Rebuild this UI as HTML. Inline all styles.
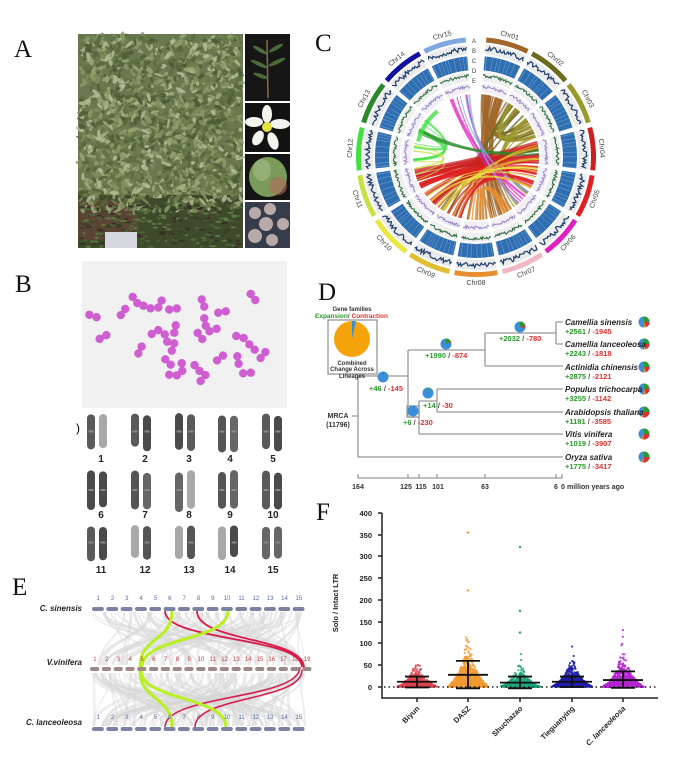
<!DOCTYPE html>
<html><head><meta charset="utf-8"><style>
html,body{margin:0;padding:0;background:#fff;}
svg{display:block;font-family:"Liberation Sans",sans-serif;}
.pl{font-family:"Liberation Serif",serif;font-size:25px;fill:#111;}
.tx{font-size:8px;font-weight:bold;font-style:italic;fill:#222;}
.num{font-size:7.5px;font-weight:bold;}
.g{fill:#2a9a2a}.r{fill:#e03030}
</style></head><body>
<svg id="s" width="688" height="763" viewBox="0 0 688 763" xmlns="http://www.w3.org/2000/svg">
<rect width="688" height="763" fill="#fff"/>
<text class="pl" x="14" y="57">A</text>
<text class="pl" x="15" y="292">B</text>
<text class="pl" x="315" y="51">C</text>
<text class="pl" x="318" y="300">D</text>
<text class="pl" x="12" y="595">E</text>
<text class="pl" x="316" y="520">F</text>

<!-- Panel A -->
<rect x="78" y="34" width="165" height="214" fill="#6a7850"/>
<rect x="78" y="195" width="165" height="53" fill="#3e4a2c"/>
<rect x="78" y="200" width="60" height="40" fill="#5a4535"/>
<g id="foliage"></g>
<rect x="105" y="232" width="32" height="16" fill="#d5d6de"/>
<rect x="245" y="34" width="45" height="67" fill="#161616"/>
<rect x="245" y="103" width="45" height="49" fill="#121212"/>
<rect x="245" y="154" width="45" height="46" fill="#141414"/>
<rect x="245" y="202" width="45" height="46" fill="#363c4a"/>
<path d="M268 98 L267 40" stroke="#8a6a4a" stroke-width="1.5"/>
<g fill="#4a6a3a">
<ellipse cx="260" cy="50" rx="8" ry="2" transform="rotate(30 260 50)"/>
<ellipse cx="276" cy="48" rx="8" ry="2" transform="rotate(-30 276 48)"/>
<ellipse cx="259" cy="64" rx="9" ry="2" transform="rotate(25 259 64)"/>
<ellipse cx="277" cy="62" rx="9" ry="2" transform="rotate(-25 277 62)"/>
<ellipse cx="261" cy="76" rx="8" ry="2" transform="rotate(20 261 76)"/>
</g>
<g fill="#f4f4ee">
<ellipse cx="267" cy="114" rx="5" ry="9"/>
<ellipse cx="280" cy="124" rx="10" ry="5"/>
<ellipse cx="273" cy="141" rx="5" ry="9" transform="rotate(-20 273 141)"/>
<ellipse cx="258" cy="138" rx="5" ry="8" transform="rotate(30 258 138)"/>
<ellipse cx="254" cy="122" rx="9" ry="5"/>
</g>
<circle cx="267" cy="127" r="5" fill="#e6e040"/>
<ellipse cx="268" cy="177" rx="19" ry="20" fill="#7a9a5a"/>
<ellipse cx="262" cy="170" rx="9" ry="11" fill="#a0b880" opacity=".7"/>
<ellipse cx="278" cy="186" rx="9" ry="9" fill="#b06a5a" opacity=".6"/>
<g fill="#b8aaa8">
<circle cx="255" cy="213" r="6"/><circle cx="270" cy="209" r="6"/><circle cx="266" cy="224" r="7"/>
<circle cx="283" cy="224" r="6"/><circle cx="255" cy="236" r="7"/><circle cx="272" cy="240" r="6"/>
</g>

<!-- Panel B -->
<rect x="82" y="261" width="205" height="147" fill="#f1f1f1"/>
<g id="pink"></g>
<g id="karyo"></g>
<text x="76" y="432" font-size="12">)</text>

<!-- Panel C -->
<g id="circos"></g>
<g font-size="6" fill="#444" text-anchor="middle">
<text x="474" y="43">A</text><text x="474" y="53">B</text><text x="474" y="63">C</text><text x="474" y="73">D</text><text x="474" y="83">E</text>
</g>

<!-- Panel D -->
<g id="tree" stroke="#999" stroke-width="1.3" fill="none">
<path d="M352 416 H358 M358 376 V457 M358 376 H408 M408 350 V417 M408 417 H419 M419 401 V434 M419 401 H437 M437 389 V412 M437 389 H563 M437 412 H563 M419 434 H563 M358 457 H563 M408 350 H485 M485 333 V366 M485 366 H563 M485 333 H556 M556 322 V344 M556 322 H563 M556 344 H563"/>
<rect x="407" y="406" width="12" height="11"/>
<path d="M358 478 H562 M358 474 V478 M408 474 V478 M419 474 V478 M437 474 V478 M485 474 V478 M556 474 V478 M562 474 V478"/>
</g>
<rect x="328" y="320" width="49" height="54" fill="none" stroke="#777" stroke-width="1"/>
<circle cx="352" cy="339" r="18" fill="#f5a30a"/>
<path d="M352 339 L352 321 A18 18 0 0 1 356 321.4 Z" fill="#3a8fd8"/>
<g font-size="6" font-weight="bold" text-anchor="middle" fill="#333">
<text x="352" y="311">Gene families</text>
<text x="352" y="365">Combined</text>
<text x="352" y="371">Change Across</text>
<text x="352" y="378">Lineages</text>
</g>
<text x="315" y="318" font-size="6.5" font-weight="bold"><tspan fill="#2a9a2a">Expansion</tspan><tspan fill="#555">/ </tspan><tspan fill="#e03030">Contraction</tspan></text>
<g font-size="7" font-weight="bold" fill="#333" text-anchor="middle">
<text x="338" y="418">MRCA</text><text x="338" y="427">(11796)</text>
</g>
<g id="pies"></g>
<g class="num">
<text x="369" y="391"><tspan class="g">+46</tspan><tspan fill="#555"> / </tspan><tspan class="r">-145</tspan></text>
<text x="425" y="358"><tspan class="g">+1990</tspan><tspan fill="#555"> / </tspan><tspan class="r">-874</tspan></text>
<text x="499" y="341"><tspan class="g">+2032</tspan><tspan fill="#555"> / </tspan><tspan class="r">-780</tspan></text>
<text x="423" y="408"><tspan class="g">+14</tspan><tspan fill="#555"> / </tspan><tspan class="r">-30</tspan></text>
<text x="403" y="425"><tspan class="g">+6</tspan><tspan fill="#555"> / </tspan><tspan class="r">-230</tspan></text>
</g>
<g>
<text class="tx" x="565" y="325">Camellia sinensis</text>
<text class="tx" x="565" y="347">Camellia lanceoleosa</text>
<text class="tx" x="565" y="370">Actinidia chinensis</text>
<text class="tx" x="565" y="392">Populus trichocarpa</text>
<text class="tx" x="565" y="415">Arabidopsis thaliana</text>
<text class="tx" x="565" y="437">Vitis vinifera</text>
<text class="tx" x="565" y="460">Oryza sativa</text>
</g>
<g class="num">
<text x="565" y="334"><tspan class="g">+2561</tspan><tspan fill="#555"> / </tspan><tspan class="r">-1945</tspan></text>
<text x="565" y="356"><tspan class="g">+2243</tspan><tspan fill="#555"> / </tspan><tspan class="r">-1818</tspan></text>
<text x="565" y="379"><tspan class="g">+2875</tspan><tspan fill="#555"> / </tspan><tspan class="r">-2121</tspan></text>
<text x="565" y="401"><tspan class="g">+3255</tspan><tspan fill="#555"> / </tspan><tspan class="r">-1142</tspan></text>
<text x="565" y="424"><tspan class="g">+1181</tspan><tspan fill="#555"> / </tspan><tspan class="r">-3585</tspan></text>
<text x="565" y="446"><tspan class="g">+1019</tspan><tspan fill="#555"> / </tspan><tspan class="r">-3907</tspan></text>
<text x="565" y="469"><tspan class="g">+1775</tspan><tspan fill="#555"> / </tspan><tspan class="r">-3417</tspan></text>
</g>
<g font-size="7" font-weight="bold" fill="#333" text-anchor="middle">
<text x="358" y="489">164</text><text x="406" y="489">125</text><text x="421" y="489">115</text><text x="438" y="489">101</text>
<text x="485" y="489">63</text><text x="556" y="489">6</text><text x="563" y="489">0</text>
<text x="567" y="489" text-anchor="start">million years ago</text>
</g>

<!-- Panel E -->
<g id="syn"></g>
<g class="tx" font-size="8" text-anchor="end">
<text x="82" y="611">C. sinensis</text>
<text x="82" y="665">V.vinifera</text>
<text x="82" y="725">C. lanceoleosa</text>
</g>

<!-- Panel F -->
<g id="plotF"></g>
<g stroke="#222" stroke-width="1.5" fill="none">
<path d="M382 513 V698 H658"/>
<path d="M378 513 H382 M378 535 H382 M378 556 H382 M378 578 H382 M378 600 H382 M378 622 H382 M378 643 H382 M378 665 H382 M378 687 H382"/>
<path d="M417 698 V702 M468 698 V702 M520 698 V702 M572 698 V702 M623 698 V702"/>
</g>
<g font-size="7.5" font-weight="bold" fill="#222" text-anchor="end">
<text x="372" y="516">400</text><text x="372" y="538">350</text><text x="372" y="559">300</text>
<text x="372" y="581">250</text><text x="372" y="603">200</text><text x="372" y="625">150</text>
<text x="372" y="646">100</text><text x="372" y="668">50</text><text x="372" y="690">0</text>
</g>
<text transform="translate(338,603) rotate(-90)" font-size="7.5" font-weight="bold" fill="#222" text-anchor="middle">Solo / Intact LTR</text>
<g font-size="7.5" font-weight="bold" fill="#222" text-anchor="end">
<text transform="translate(420,709) rotate(-45)">Biyun</text>
<text transform="translate(471,709) rotate(-45)">DASZ</text>
<text transform="translate(523,709) rotate(-45)">Shuchazao</text>
<text transform="translate(575,709) rotate(-45)">Tieguanying</text>
<text transform="translate(626,709) rotate(-45)"><tspan font-style="italic">C. lanceoleosa</tspan></text>
</g>
</svg>
<script>
(function(){
var NS="http://www.w3.org/2000/svg";
function el(t,a,p){var e=document.createElementNS(NS,t);for(var k in a)e.setAttribute(k,a[k]);if(p)p.appendChild(e);return e;}
var seed=12345;function rnd(){seed=(seed*16807)%2147483647;return (seed-1)/2147483646;}
function $(i){return document.getElementById(i);}

// Foliage
var f=$("foliage"),pal=["#5d6e3f","#7f8e5c","#9aa878","#4a5a34","#b4bd98","#6f7f4c","#8c9a6a","#55653c"];
for(var i=0;i<1700;i++){var x=80+rnd()*161,y=36+rnd()*175;
el("ellipse",{cx:x,cy:y,rx:2+rnd()*3.5,ry:1+rnd()*1.4,fill:pal[(rnd()*pal.length)|0],opacity:.85,transform:"rotate("+(rnd()*180)+" "+x+" "+y+")"},f);}
for(var i=0;i<250;i++){var x=80+rnd()*161,y=205+rnd()*42;
el("ellipse",{cx:x,cy:y,rx:1+rnd()*3,ry:1,fill:["#2e4422","#4c6636","#3a3028","#5e7a44"][(rnd()*4)|0]},f);}

// Pink chromosomes
var pk=[[93,316],[123,312],[135,300],[147,307],[160,304],[173,309],[103,337],[140,350],[155,332],[166,338],[175,329],[173,347],[168,362],[182,367],[173,375],[203,303],[205,322],[213,330],[200,336],[222,312],[197,368],[203,378],[220,358],[238,360],[240,337],[252,347],[263,355],[247,373],[253,297]];
var pg=$("pink");
pk.forEach(function(p){var a=rnd()*180;var g=el("g",{transform:"translate("+p[0]+","+p[1]+") rotate("+a+")",fill:"#cf5fd0"},pg);
el("circle",{cx:-3.8,cy:0,r:4.2},g);el("circle",{cx:3.8,cy:0,r:4.2},g);});

// Karyotype
var kg=$("karyo"),cols=[97,141,185,228,272],labs=[101,145,189,230,273],rows=[[413,450,462],[470,510,518],[525,560,573]];
var light={"1r":1,"8r":1,"12l":1,"13l":1,"14l":1};
for(var r=0;r<3;r++)for(var c=0;c<5;c++){var n=r*5+c+1;
["l","r"].forEach(function(s,j){var x=cols[c]+(j?2:-10),lt=light[n+s];
var col=lt?"#a8a8a8":["#4a4a4a","#5a5a5a","#666","#555"][(rnd()*4)|0];
el("rect",{x:x,y:rows[r][0]+rnd()*3,width:8,height:rows[r][1]-rows[r][0]-rnd()*4,rx:4,fill:col},kg);
if(!lt)el("rect",{x:x+1.5,y:(rows[r][0]+rows[r][1])/2-1,width:5,height:2,fill:"#888"},kg);});
var t=el("text",{x:labs[c],y:rows[r][2],"font-size":"10","font-weight":"bold","text-anchor":"middle",fill:"#222"},kg);t.textContent=n;}

// Circos
var cg=$("circos"),cx=476,cy=157;
function pt(r,a){var d=(a-90)*Math.PI/180;return [cx+r*Math.cos(d),cy+r*Math.sin(d)];}
function sect(r1,r2,a1,a2){var p1=pt(r2,a1),p2=pt(r2,a2),p3=pt(r1,a2),p4=pt(r1,a1);var l=(a2-a1)>180?1:0;
return "M"+p1+"A"+r2+","+r2+" 0 "+l+" 1 "+p2+"L"+p3+"A"+r1+","+r1+" 0 "+l+" 0 "+p4+"Z";}
var cc=["#a0662a","#6b6b1f","#9a9a2a","#cc2020","#e02020","#e020c0","#f0b8c0","#e89030","#e0c030","#e8e840","#c8e040","#40e040","#2a8a2a","#1010a0","#80a8e0"];
var st=[];for(var i=0;i<15;i++){var a1=5+i*23.5,a2=a1+21;st.push([a1,a2]);
el("path",{d:sect(115,120,a1,a2),fill:cc[i]},cg);
el("path",{d:sect(103,113,a1,a2),fill:"#ebebeb"},cg);
el("path",{d:sect(87,101,a1,a2),fill:"#2f6eb0"},cg);
el("path",{d:sect(76,85,a1,a2),fill:"#efefef"},cg);
el("path",{d:sect(65,74,a1,a2),fill:"#f2f0f6"},cg);
[[106,5,"#1d3d6a",1.2],[80,3,"#2a6a3a",1],[69,3,"#9a8ac8",1]].forEach(function(q){var s="";
for(var a=a1;a<=a2;a+=0.7){var p=pt(q[0]+rnd()*q[1],a);s+=(s?"L":"M")+p[0].toFixed(1)+","+p[1].toFixed(1);}
el("path",{d:s,fill:"none",stroke:q[2],"stroke-width":q[3]},cg);});
for(var a=a1+1;a<a2;a+=1.6+rnd()*2){var p=pt(87,a),q=pt(101,a);el("line",{x1:p[0],y1:p[1],x2:q[0],y2:q[1],stroke:"#7aa8d8","stroke-width":0.5},cg);}
var m=(a1+a2)/2,lp=pt(126,m),rot=m;if(m>90&&m<270)rot=m+180;
var t=el("text",{x:lp[0],y:lp[1]+2,"font-size":"7","text-anchor":"middle",fill:"#444",transform:"rotate("+rot+" "+lp[0]+" "+lp[1]+")"},cg);
t.textContent="Chr"+(i<9?"0":"")+(i+1);}
function link(c,a1,a2,w,o){var p=pt(63,a1),q=pt(63,a2);var mid=pt(10,(a1+a2)/2);
el("path",{d:"M"+p+"Q"+(cx+(mid[0]-cx)*0.3)+","+(cy+(mid[1]-cy)*0.3)+" "+q,fill:"none",stroke:cc[c],"stroke-width":w,opacity:o},cg);}
function ang(c){return st[c][0]+rnd()*21;}
var L=[[0,6,16],[0,7,6],[0,2,6],[0,1,5],[1,2,5],[1,8,4],[2,5,6],[3,10,12],[3,9,10],[4,10,8],[4,8,8],[5,14,5],[11,12,4],[10,11,3],[7,6,6],[2,1,4],[12,3,3],[14,5,3],[8,3,4],[9,4,4]];
L.forEach(function(l){for(var k=0;k<l[2];k++)link(l[0],ang(l[0]),ang(l[1]),0.8+rnd()*1.8,0.75);});
el("path",{d:sect(58,62,285,320),fill:"#40e040",opacity:.8},cg);

// Pies in D
var pg2=$("pies");
function pie(x,y,r,parts){el("circle",{cx:x,cy:y,r:r,fill:"#3a8fd8"},pg2);var a=0;
parts.forEach(function(p){var a1=a,a2=a+p[0];var s=[x+r*Math.sin(a1*Math.PI/180),y-r*Math.cos(a1*Math.PI/180)],e=[x+r*Math.sin(a2*Math.PI/180),y-r*Math.cos(a2*Math.PI/180)];
el("path",{d:"M"+x+","+y+"L"+s+"A"+r+","+r+" 0 "+(p[0]>180?1:0)+" 1 "+e+"Z",fill:p[1]},pg2);a=a2;});}
pie(383,377,5.5,[[15,"#2a9a2a"]]);pie(446,344,5.5,[[60,"#2a9a2a"],[10,"#e03030"]]);pie(520,327,5.5,[[70,"#2a9a2a"],[30,"#e03030"]]);
pie(428,393,5.5,[[8,"#2a9a2a"]]);pie(413,411,5.5,[[8,"#2a9a2a"]]);
[322,344,367,389,412,434,457].forEach(function(y,i){pie(644,y,5.5,[[90,"#2a9a2a"],[i>3?100:70,"#e03030"],[20,"#e8a030"]]);});

// Synteny E
var sg=$("syn");
for(var i=0;i<220;i++){var x1=92+rnd()*212,x2=92+rnd()*215,top=rnd()<0.5;var y1=top?612:673,y2=top?665:726;
el("path",{d:"M"+x1+","+y1+"C"+x1+","+(y1+25)+" "+x2+","+(y2-25)+" "+x2+","+y2,fill:"none",stroke:"#d8d8d8","stroke-width":1+rnd()*2,opacity:.45},sg);}
function cb(x1,y1,x2,y2,c,w){el("path",{d:"M"+x1+","+y1+"C"+x1+","+(y1+(y2-y1)*0.55)+" "+x2+","+(y2-(y2-y1)*0.55)+" "+x2+","+y2,fill:"none",stroke:c,"stroke-width":w},sg);}
cb(300,667,165,727,"#d81848",1.5);cb(302,670,195,727,"#d81848",1.5);
cb(165,611,302,667,"#d81848",1.8);cb(197,611,304,668,"#d81848",1.8);
cb(172,611,140,667,"#b8f020",3);cb(228,611,142,667,"#b8f020",3);
cb(140,670,172,727,"#b8f020",3);cb(141,670,226,727,"#b8f020",3);
function row(n,x0,x1,y,ny,col,bc){var step=(x1-x0)/n;for(var i=0;i<n;i++){var x=x0+i*step;
el("rect",{x:x+1,y:y-2,width:step-2.5,height:4,rx:2,fill:bc},sg);
var t=el("text",{x:x+step/2,y:ny,"font-size":"6","text-anchor":"middle",fill:col},sg);t.textContent=i+1;}}
row(15,91,306,609,600,"#5a6aa0","#7a84a0");
row(19,89,313,669,661,"#c04040","#a08888");
row(15,91,306,729,719,"#5a6aa0","#7a84a0");

// F plot
var fg=$("plotF"),xs=[417,468,520,572,623],colsF=["#dd4450","#f19a30","#1fa57a","#1e1ea8","#b424d0"];
var cfg=[[88,10,500],[175,18,800],[100,9,450],[97,11,700],[200,14,800]];
var y0=687,k=174/400;
for(var j=0;j<5;j++){var c=cfg[j];
for(var i=0;i<c[2];i++){var v=-c[1]*Math.log(rnd()+1e-9);if(v>c[0])v=rnd()*c[0];
var w=20*Math.exp(-v/(c[1]*2.2))+1;var x=xs[j]+(rnd()*2-1)*w;
el("circle",{cx:x.toFixed(1),cy:(y0-v*k).toFixed(1),r:1.1,fill:colsF[j],opacity:.85},fg);}}
[[1,222],[1,355],[2,125],[2,175],[2,322]].forEach(function(o){el("circle",{cx:xs[o[0]],cy:y0-o[1]*k,r:1.2,fill:colsF[o[0]]},fg);});
el("line",{x1:384,y1:y0,x2:658,y2:y0,stroke:"#222","stroke-width":1.5,"stroke-dasharray":"1.5,3"},fg);
var eb=[[12,24,-1],[28,60,-3],[10,24,-3],[12,24,0],[16,36,-2]];
for(var j=0;j<5;j++){var e=eb[j],x=xs[j];var d="M"+(x-20)+","+(y0-e[0]*k)+"H"+(x+20)+"M"+(x-12)+","+(y0-e[1]*k)+"H"+(x+12)+"M"+(x-12)+","+(y0-e[2]*k)+"H"+(x+12)+"M"+x+","+(y0-e[1]*k)+"V"+(y0-e[2]*k);
el("path",{d:d,stroke:"#111","stroke-width":1.8,fill:"none"},fg);}
})();
</script>
</body></html>
